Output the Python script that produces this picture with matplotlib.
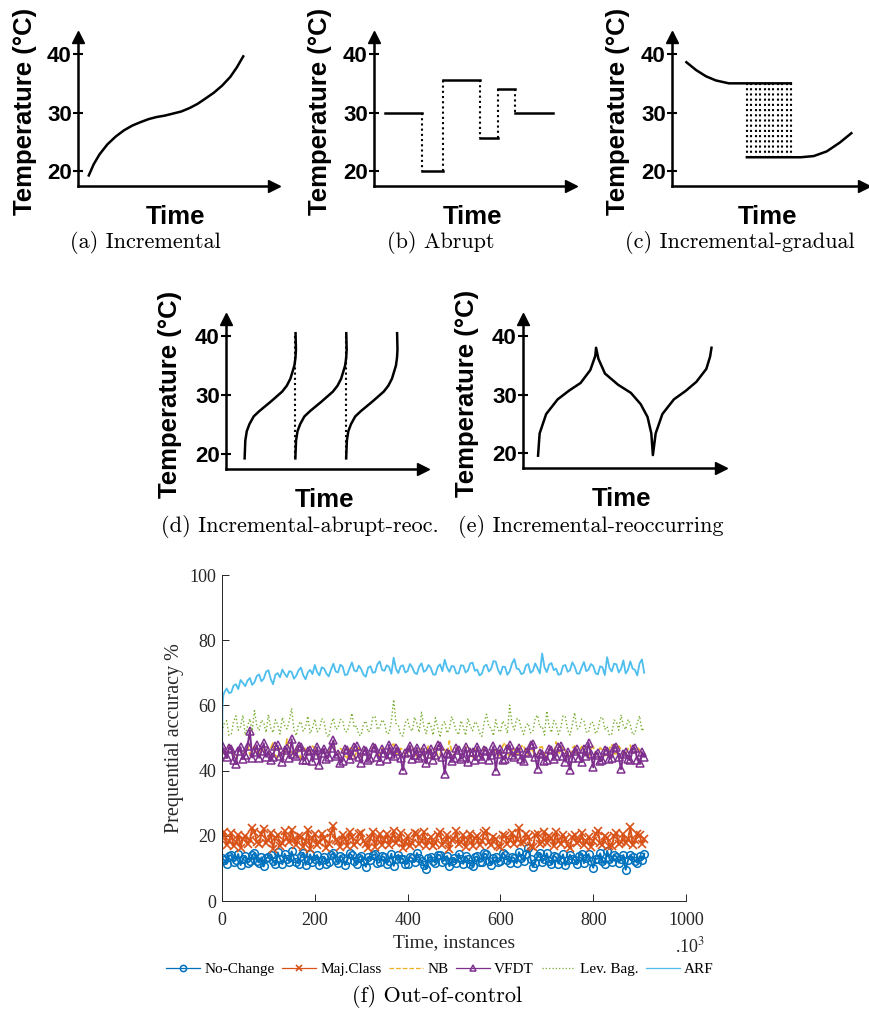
import matplotlib.pyplot as plt
import numpy as np

plt.rcParams['mathtext.fontset'] = 'stix'

# ---------------- data: concept sketches (a)-(e) ----------------
temp_ticks = [20, 30, 40]

# (a) incremental drift: (time fraction, temperature)
incr_t = [0.055, 0.08, 0.11, 0.15, 0.193, 0.235, 0.277, 0.32, 0.36, 0.40, 0.443,
          0.485, 0.527, 0.57, 0.61, 0.65, 0.693, 0.735, 0.777, 0.81, 0.843]
incr_temp = [19.3, 21.2, 22.9, 24.6, 25.95, 27.0, 27.8, 28.4, 28.9, 29.25, 29.5,
             29.85, 30.2, 30.8, 31.5, 32.4, 33.4, 34.6, 36.1, 37.7, 39.6]

# (b) abrupt drift: level segments (start, end, temperature)
abrupt_start = [0.058, 0.245, 0.348, 0.536, 0.627, 0.718]
abrupt_end = [0.245, 0.348, 0.536, 0.627, 0.718, 0.909]
abrupt_temp = [30.0, 20.0, 35.6, 25.6, 34.0, 30.0]

# (c) incremental-gradual drift
grad_top_t = [0.075, 0.126, 0.177, 0.228, 0.296, 0.619]
grad_top_temp = [38.6, 37.25, 36.2, 35.5, 35.0, 35.0]
grad_low_t = [0.39, 0.67, 0.738, 0.806, 0.874, 0.934]
grad_low_temp = [22.4, 22.4, 22.6, 23.4, 24.9, 26.5]
grad_switch_t = [0.39, 0.413, 0.436, 0.459, 0.482, 0.505, 0.528, 0.551, 0.574, 0.597, 0.619]

# (d) incremental-abrupt-reoccurring: one rising shape, repeated
reoc_shape_t = [0, 0.0035, 0.011, 0.0245, 0.046, 0.0745, 0.1325, 0.1905, 0.214,
                0.2325, 0.2525, 0.258, 0.2605, 0.2585]
reoc_shape_temp = [19.3, 22.3, 23.9, 25.1, 26.4, 27.3, 28.9, 30.6, 31.6,
                   32.8, 35.0, 36.3, 37.7, 40.5]
reoc_starts = [0.0945, 0.352, 0.61]

# (e) incremental-reoccurring
recur_t = [0.076, 0.084, 0.117, 0.175, 0.233, 0.291, 0.34, 0.365, 0.369,
           0.381, 0.414, 0.48, 0.545, 0.594, 0.629, 0.648, 0.656,
           0.67, 0.704, 0.762, 0.82, 0.876, 0.926, 0.945, 0.952]
recur_temp = [19.6, 23.4, 26.7, 29.2, 30.7, 32.0, 34.2, 36.6, 38.0,
              36.1, 33.6, 31.7, 30.3, 28.4, 26.2, 23.4, 19.7,
              23.4, 26.7, 29.2, 30.6, 32.2, 34.4, 36.5, 38.0]

# ---------------- data: (f) out-of-control accuracy ----------------
time_k = list(range(0, 911, 5))   # x 10^3 instances
arf_time_k = [0, 1, 2, 3] + time_k[1:]

no_change = [13.2, 12.5, 11.4, 13.9, 14.1, 12.0, 12.6, 14.4, 11.0, 12.9,
             13.8, 11.7, 12.2, 14.0, 14.6, 12.3, 11.8, 13.4, 10.6, 13.1,
             13.5, 14.2, 12.4, 11.2, 14.9, 13.0, 11.3, 14.5, 13.0, 12.1,
             15.2, 13.1, 12.1, 11.5, 13.7, 14.8, 11.1, 12.7, 14.3, 12.0,
             12.8, 14.1, 10.9, 12.5, 13.6, 11.4, 12.0, 14.0, 14.8, 12.6,
             11.6, 13.9, 13.3, 11.0, 12.5, 14.6, 14.0, 12.3, 11.2, 13.3,
             13.9, 12.2, 10.5, 13.5, 12.7, 14.1, 14.4, 11.7, 11.9, 13.8,
             13.4, 11.5, 12.3, 14.5, 10.8, 12.9, 14.2, 13.0, 12.9, 11.3,
             11.5, 13.6, 13.1, 12.0, 14.7, 13.3, 12.2, 11.1, 9.9, 13.2,
             13.6, 12.4, 11.7, 14.2, 14.1, 12.1, 12.6, 13.8, 10.7, 12.4,
             13.2, 11.6, 14.5, 12.9, 11.4, 13.7, 12.8, 11.2, 10.6, 13.4,
             13.7, 12.0, 12.1, 14.6, 14.3, 12.4, 11.0, 13.2, 13.5, 11.9,
             12.4, 14.8, 14.0, 12.6, 11.8, 13.5, 13.1, 11.6, 15.0, 13.3,
             12.3, 14.4, 16.2, 12.9, 10.4, 11.8, 13.8, 14.7, 12.0, 12.8,
             14.6, 12.3, 11.3, 13.9, 13.4, 11.5, 12.7, 14.3, 10.9, 12.6,
             14.2, 13.0, 12.5, 11.2, 13.9, 14.5, 11.6, 13.1, 14.4, 12.3,
             10.2, 12.9, 13.0, 14.6, 12.2, 11.4, 15.4, 13.0, 11.9, 14.2,
             13.6, 11.8, 12.8, 14.1, 9.6, 12.5, 14.1, 13.4, 12.4, 11.7,
             13.7, 12.6, 14.5]
maj_class = [19.5, 21.2, 17.2, 18.4, 20.8, 16.9, 18.1, 20.3, 16.4, 19.0,
             19.9, 17.6, 18.6, 22.4, 21.3, 18.2, 17.5, 20.6, 22.1, 17.9,
             18.8, 20.9, 16.0, 19.3, 20.2, 17.0, 17.8, 21.4, 19.4, 18.0,
             21.9, 18.9, 17.1, 20.0, 19.7, 16.5, 18.3, 21.8, 15.9, 19.2,
             20.5, 17.3, 18.0, 20.7, 19.2, 16.4, 17.4, 21.0, 23.0, 18.6,
             18.5, 16.7, 20.1, 19.0, 16.8, 21.1, 19.6, 17.2, 18.2, 20.4,
             21.0, 18.3, 17.6, 16.2, 19.3, 21.3, 16.6, 18.9, 20.4, 17.1,
             18.7, 20.6, 17.3, 19.0, 21.5, 17.8, 18.9, 20.8, 16.3, 18.0,
             19.8, 16.9, 17.9, 20.9, 20.6, 17.6, 18.4, 21.2, 16.9, 18.8,
             19.5, 17.0, 17.7, 20.3, 21.1, 17.3, 18.1, 20.2, 15.8, 18.7,
             19.0, 21.4, 17.5, 18.2, 20.3, 16.6, 18.6, 20.5, 17.0, 19.3,
             19.9, 17.1, 18.3, 20.8, 21.4, 18.0, 17.2, 19.5, 19.1, 16.9,
             16.5, 20.2, 20.0, 17.4, 18.8, 21.0, 17.4, 19.1, 22.3, 17.9,
             18.0, 20.6, 19.6, 17.0, 16.7, 20.2, 20.7, 17.5, 18.2, 21.3,
             17.8, 19.9, 19.4, 16.8, 21.2, 18.5, 17.6, 20.3, 19.0, 17.1,
             16.2, 19.6, 20.1, 17.7, 18.5, 21.0, 17.1, 18.3, 19.7, 16.6,
             18.4, 20.5, 21.6, 17.8, 17.3, 20.0, 19.3, 16.9, 16.8, 19.8,
             20.9, 17.4, 18.1, 20.6, 17.7, 18.9, 22.6, 17.2, 18.6, 20.4,
             20.2, 17.6, 19.0]
nb = [46.9, 44.6, 45.0, 47.8, 47.3, 44.2, 43.5, 46.0, 46.2, 44.9,
      45.7, 47.9, 44.9, 46.3, 47.6, 45.1, 44.6, 47.2, 46.8, 44.3,
      45.3, 46.9, 48.5, 44.7, 44.0, 47.0, 46.4, 44.5, 49.7, 46.1,
      45.8, 44.2, 47.1, 45.9, 43.7, 47.4, 46.6, 44.8, 45.2, 47.5,
      47.0, 44.6, 44.4, 46.5, 46.1, 44.0, 45.5, 47.3, 48.9, 45.0,
      44.8, 46.8, 46.3, 44.5, 43.9, 46.6, 47.4, 44.1, 45.6, 47.1,
      44.2, 46.2, 46.7, 44.4, 45.0, 47.3, 47.8, 45.2, 44.5, 46.9,
      46.0, 44.0, 45.4, 47.6, 48.2, 45.5, 44.7, 46.8, 46.5, 44.6,
      45.1, 47.2, 47.5, 44.9, 44.3, 46.3, 46.9, 44.4, 45.6, 47.7,
      43.8, 46.0, 47.2, 44.2, 45.0, 47.0, 46.4, 44.8, 49.1, 45.9,
      44.6, 47.1, 46.2, 44.3, 45.3, 46.8, 47.7, 45.0, 44.1, 46.5,
      46.6, 44.4, 45.4, 47.3, 47.0, 44.7, 44.8, 46.9, 46.3, 44.2,
      45.2, 47.6, 48.6, 45.3, 44.4, 46.0, 46.8, 44.6, 45.7, 47.4,
      47.9, 45.2, 44.9, 46.7, 46.1, 44.3, 45.0, 47.2, 47.3, 45.0,
      44.2, 46.1, 46.7, 44.5, 48.8, 45.6, 45.1, 47.3, 46.0, 44.4,
      44.5, 46.9, 47.6, 45.0, 45.8, 47.4, 46.9, 44.3, 44.0, 46.6,
      47.4, 44.9, 45.5, 47.0, 46.3, 44.6, 44.7, 46.8, 48.1, 45.1,
      45.2, 47.5, 46.6, 44.4, 44.9, 46.7, 47.8, 45.3, 45.7, 47.1,
      46.4, 44.8, 44.6]
vfdt = [48.0, 45.2, 44.1, 47.0, 46.5, 43.3, 42.0, 46.1, 47.2, 43.6,
        44.8, 47.5, 52.3, 44.0, 45.6, 47.8, 43.9, 45.9, 48.4, 44.2,
        46.0, 43.1, 44.3, 47.4, 47.7, 44.5, 42.6, 46.3, 46.9, 43.8,
        49.6, 45.0, 44.5, 47.6, 47.1, 43.2, 43.4, 46.0, 46.3, 42.8,
        44.9, 47.2, 41.8, 45.3, 46.7, 43.7, 44.2, 47.0, 49.3, 44.6,
        45.1, 42.4, 43.0, 46.6, 46.4, 43.5, 44.7, 47.3, 47.5, 44.1,
        42.4, 46.2, 45.9, 43.1, 44.0, 47.1, 46.8, 44.3, 42.9, 46.5,
        45.3, 43.6, 47.9, 45.0, 44.4, 46.9, 46.1, 43.8, 40.1, 45.4,
        45.7, 47.6, 43.5, 44.7, 47.0, 44.0, 44.6, 46.8, 42.2, 45.1,
        46.6, 43.4, 44.8, 47.7, 47.4, 44.2, 39.0, 45.5, 45.2, 43.0,
        43.8, 46.9, 46.2, 43.6, 44.1, 47.2, 42.5, 45.6, 45.8, 43.2,
        47.3, 44.5, 43.6, 46.4, 46.0, 43.3, 44.9, 47.5, 40.0, 45.2,
        46.5, 43.4, 43.7, 46.7, 47.8, 44.8, 44.3, 46.0, 46.9, 43.5,
        42.8, 45.7, 45.5, 48.0, 48.2, 44.1, 40.6, 45.3, 45.0, 42.9,
        43.2, 46.6, 46.3, 43.7, 44.6, 47.1, 47.6, 44.4, 42.7, 45.8,
        40.3, 44.0, 45.9, 46.5, 43.9, 42.6, 46.7, 44.5, 48.5, 45.2,
        41.0, 44.9, 45.4, 42.8, 43.3, 46.4, 46.1, 43.7, 44.0, 46.9,
        47.2, 44.1, 40.4, 45.0, 45.6, 43.6, 43.1, 46.5, 46.8, 43.4,
        42.3, 45.7, 44.2]
lev_bag = [52.0, 54.6, 55.3, 50.8, 51.2, 55.1, 56.8, 52.4, 53.5, 57.0,
           50.9, 53.6, 55.9, 52.2, 58.4, 53.8, 52.3, 55.5, 54.7, 51.7,
           57.2, 53.1, 51.6, 55.6, 54.1, 51.2, 56.3, 53.9, 52.8, 55.2,
           59.1, 52.5, 50.7, 54.3, 55.0, 52.1, 53.2, 56.7, 51.4, 53.0,
           55.8, 51.9, 52.6, 56.0, 54.9, 51.1, 50.3, 54.0, 56.1, 52.7,
           53.0, 55.7, 55.4, 52.0, 51.9, 54.5, 57.6, 53.2, 53.7, 50.9,
           50.8, 54.4, 55.2, 51.8, 52.4, 56.3, 56.7, 52.6, 53.3, 55.6,
           54.8, 51.3, 51.5, 55.1, 61.8, 54.4, 53.9, 51.0, 50.6, 54.7,
           55.7, 52.8, 52.1, 56.4, 54.4, 51.7, 57.9, 53.6, 51.3, 55.0,
           53.8, 50.9, 56.2, 53.1, 50.2, 54.2, 55.1, 51.5, 52.7, 56.6,
           54.6, 52.1, 51.0, 55.3, 53.4, 50.8, 56.0, 53.7, 52.2, 55.0,
           54.3, 51.6, 50.5, 54.8, 57.3, 53.4, 53.1, 50.7, 55.6, 52.5,
           51.8, 55.2, 54.0, 51.4, 60.1, 54.3, 52.5, 55.8, 55.9, 52.9,
           51.1, 53.9, 54.5, 51.6, 52.0, 56.1, 57.0, 53.3, 53.6, 50.9,
           58.3, 53.5, 51.7, 55.4, 54.2, 51.1, 52.9, 56.9, 56.5, 52.4,
           50.9, 54.1, 57.8, 52.8, 53.0, 55.8, 55.3, 51.9, 51.6, 54.9,
           54.7, 51.3, 52.3, 56.1, 56.4, 52.7, 53.5, 50.8, 51.2, 55.5,
           55.0, 52.4, 57.1, 53.8, 52.6, 55.7, 54.1, 51.0, 51.4, 54.6,
           56.8, 52.1, 53.2]
arf = [40.5, 59.0, 61.5, 63.2,
       64.0, 65.2, 63.8, 64.0, 66.1, 66.5, 65.0, 67.8, 66.9,
       65.9, 67.6, 68.4, 66.3, 67.1, 69.0, 69.5, 67.4, 68.2, 70.3,
       70.8, 68.1, 66.5, 69.4, 69.9, 68.6, 71.0, 69.7, 68.7, 70.5,
       70.3, 68.2, 69.1, 70.8, 71.6, 69.3, 68.0, 70.1, 70.9, 69.6,
       72.4, 70.2, 69.2, 71.7, 71.3, 69.8, 68.9, 71.0, 72.8, 70.4,
       70.1, 72.5, 71.9, 69.3, 69.5, 71.4, 73.2, 70.7, 70.4, 72.2,
       71.1, 69.4, 68.8, 71.6, 72.0, 70.0, 70.2, 72.6, 73.5, 70.9,
       70.6, 72.3, 71.8, 69.7, 74.6, 71.2, 69.9, 72.0, 72.3, 70.1,
       70.5, 72.7, 71.7, 70.0, 69.6, 71.9, 72.9, 70.3, 70.8, 72.4,
       71.5, 69.5, 69.4, 71.8, 72.6, 70.5, 74.0, 71.6, 70.3, 72.1,
       71.9, 69.8, 69.8, 72.3, 72.2, 70.1, 70.7, 72.9, 73.1, 70.6,
       71.0, 69.2, 69.7, 72.0, 72.5, 70.4, 71.2, 73.6, 73.4, 70.9,
       69.5, 71.9, 71.8, 69.4, 70.4, 72.8, 74.2, 71.3, 71.1, 69.6,
       69.9, 72.2, 72.7, 70.0, 70.6, 72.9, 71.4, 69.8, 75.9, 71.7,
       70.2, 72.5, 73.0, 70.8, 71.3, 69.4, 69.6, 72.1, 72.4, 70.3,
       70.8, 73.2, 71.9, 69.8, 69.7, 71.6, 73.3, 70.5, 71.0, 72.7,
       72.1, 69.9, 69.5, 72.0, 71.7, 69.3, 74.8, 71.5, 70.4, 72.8,
       72.6, 70.1, 71.2, 73.8, 69.8, 70.9, 73.5, 71.3, 70.9, 69.2,
       72.9, 74.1, 70.0]

W, H = 869, 1015
fig = plt.figure(figsize=(W / 100, H / 100), dpi=100)

SANS = 'Liberation Sans'
SERIF = 'Liberation Serif'
GREY = '#262626'


def px_axes(left, top, right, bottom):
    return fig.add_axes([left / W, 1 - bottom / H, (right - left) / W, (bottom - top) / H])


def sketch_axes(left, top, right, bottom, label_x, caption, cap_x, cap_y):
    ax = px_axes(left, top, right, bottom)
    ax.set_xlim(0, 1)
    ax.set_ylim(17.5, 42.9)
    for s in ['top', 'right']:
        ax.spines[s].set_visible(False)
    for s in ['left', 'bottom']:
        ax.spines[s].set_linewidth(1.8)
    ax.set_xticks([])
    ax.set_yticks(temp_ticks)
    ax.tick_params(axis='y', direction='inout', length=7, width=1.5, pad=1)
    for lbl in ax.get_yticklabels():
        lbl.set_fontfamily(SANS)
        lbl.set_fontweight('bold')
        lbl.set_fontsize(16)
    # arrow heads on the axes
    ax.plot(1, 0, '>k', ms=8, transform=ax.transAxes, clip_on=False)
    ax.plot(0, 1, '^k', ms=8, transform=ax.transAxes, clip_on=False)
    fig.text(label_x / W, 1 - ((top + bottom) / 2) / H, 'Temperature (°C)', rotation=90,
             ha='center', va='center', fontsize=18.5, fontweight='bold', family=SANS)
    fig.text(((left + right) / 2) / W, 1 - (bottom + 31) / H, 'Time',
             ha='center', va='center', fontsize=18.5, fontweight='bold', family=SANS)
    fig.text(cap_x / W, 1 - cap_y / H, caption, ha='center', va='center',
             fontsize=16, family='cmr10')
    return ax


curve = dict(color='black', lw=1.8)
dots = dict(color='black', lw=1.5, linestyle=(0, (1, 1.5)))

# (a) Incremental
ax = sketch_axes(78, 37, 274, 186, 25, '(a) Incremental', 145, 243)
ax.plot(incr_t, incr_temp, **curve)

# (b) Abrupt
ax = sketch_axes(374, 37, 571, 186, 320, '(b) Abrupt', 441, 243)
for i in range(len(abrupt_temp)):
    ax.plot([abrupt_start[i], abrupt_end[i]], [abrupt_temp[i], abrupt_temp[i]], **curve)
for i in range(len(abrupt_temp) - 1):
    ax.plot([abrupt_end[i], abrupt_end[i]], [abrupt_temp[i], abrupt_temp[i + 1]], **dots)

# (c) Incremental-gradual
ax = sketch_axes(672, 37, 864, 186, 618, '(c) Incremental-gradual', 740, 243)
ax.plot(grad_top_t, grad_top_temp, **curve)
ax.plot(grad_low_t, grad_low_temp, **curve)
for t in grad_switch_t:
    ax.plot([t, t], [grad_top_temp[-1], grad_low_temp[0]], **dots)

# (d) Incremental-abrupt-reoccurring
ax = sketch_axes(226, 319, 423, 469, 170, '(d) Incremental-abrupt-reoc.', 300, 527)
for s in reoc_starts:
    ax.plot(np.array(reoc_shape_t) + s, reoc_shape_temp, **curve)
for s in reoc_starts[1:]:
    ax.plot([s, s], [reoc_shape_temp[0], reoc_shape_temp[-1]], **dots)

# (e) Incremental-reoccurring
ax = sketch_axes(523, 319, 721, 468, 467, '(e) Incremental-reoccurring', 591, 527)
ax.plot(recur_t, recur_temp, **curve)

# ---------------- (f) Out-of-control ----------------
ax = px_axes(222, 575, 686, 901)
ax.plot(time_k, no_change, '-o', color='#0072BD', lw=1.4, ms=5.5, mew=1.1, mfc='none',
        label='No-Change')
ax.plot(time_k, maj_class, '-x', color='#D95319', lw=1.4, ms=5.5, mew=1.2, label='Maj.Class')
ax.plot(time_k, nb, '--', color='#EDB120', lw=1.2, label='NB')
ax.plot(time_k, vfdt, '-^', color='#7E2F8E', lw=1.4, ms=6, mew=1.1, mfc='none', label='VFDT')
ax.plot(time_k, lev_bag, ':', color='#77AC30', lw=1.0, label='Lev. Bag.')
ax.plot(arf_time_k, arf, '-', color='#4DBEEE', lw=1.3, label='ARF')

ax.set_xlim(0, 1000)
ax.set_ylim(0, 100)
ax.set_xticks(range(0, 1001, 200))
ax.set_yticks(range(0, 101, 20))
for s in ['top', 'right']:
    ax.spines[s].set_visible(False)
for s in ['left', 'bottom']:
    ax.spines[s].set_color(GREY)
    ax.spines[s].set_linewidth(0.7)
ax.tick_params(axis='both', direction='in', length=5, width=0.7, color=GREY,
               labelcolor=GREY, labelsize=13)
ax.tick_params(axis='x', pad=8)
ax.tick_params(axis='y', pad=4)
for lbl in ax.get_xticklabels() + ax.get_yticklabels():
    lbl.set_fontfamily(SERIF)

fig.text(174 / W, 1 - 738 / H, 'Prequential accuracy %', rotation=90, ha='center',
         va='center', fontsize=14.5, family=SERIF, color=GREY)
fig.text(454 / W, 1 - 943 / H, 'Time, instances', ha='center', va='center',
         fontsize=14, family=SERIF, color=GREY)
fig.text(690 / W, 1 - 946 / H, '.10$^3$', ha='center', va='center',
         fontsize=13, family=SERIF, color=GREY)

handles, labels = ax.get_legend_handles_labels()
leg = fig.legend(handles, labels, loc='center', bbox_to_anchor=(440 / W, 1 - 969 / H), ncol=6,
                 frameon=False, prop={'family': SERIF, 'size': 11}, handlelength=2.2,
                 handletextpad=0.3, columnspacing=0.5, numpoints=1)
for line in leg.get_lines():
    line.set_linewidth(0.9)
    line.set_markersize(4.5)

fig.text(437 / W, 1 - 997 / H, '(f) Out-of-control', ha='center', va='center',
         fontsize=16, family='cmr10')

plt.savefig('out.png', dpi=100)
